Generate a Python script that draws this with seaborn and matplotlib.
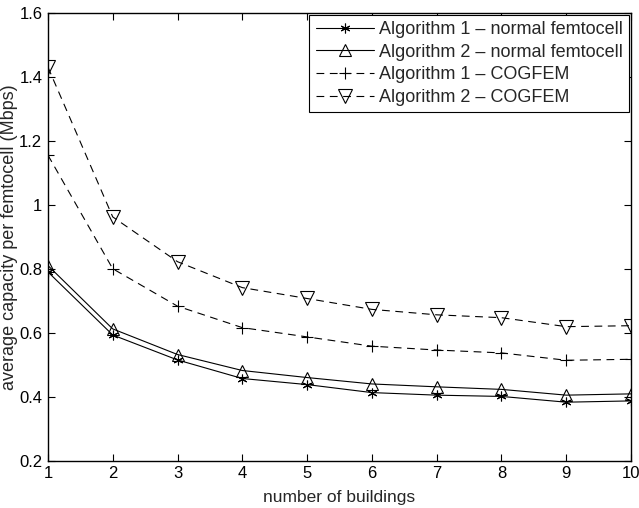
import seaborn as sns
import matplotlib.pyplot as plt
import pandas as pd

# number of buildings
buildings = [1, 2, 3, 4, 5, 6, 7, 8, 9, 10]

# average capacity per femtocell (Mbps)
alg1_normal = [0.79, 0.593, 0.515, 0.457, 0.438, 0.413, 0.405, 0.401, 0.383, 0.387]
alg2_normal = [0.81, 0.612, 0.532, 0.482, 0.460, 0.440, 0.431, 0.423, 0.405, 0.409]
alg1_cogfem = [1.155, 0.80, 0.683, 0.616, 0.587, 0.558, 0.546, 0.537, 0.514, 0.517]
alg2_cogfem = [1.43, 0.962, 0.822, 0.741, 0.707, 0.673, 0.656, 0.647, 0.619, 0.622]

labels = ['Algorithm 1 \u2013 normal femtocell',
          'Algorithm 2 \u2013 normal femtocell',
          'Algorithm 1 \u2013 COGFEM',
          'Algorithm 2 \u2013 COGFEM']

sns.set_style("white")
plt.rcParams['font.family'] = ['Liberation Sans', 'DejaVu Sans']
plt.rcParams['font.size'] = 12

fig = plt.figure(figsize=(6.39, 5.08), dpi=100)
ax = fig.add_axes([0.075, 0.093, 0.9125, 0.882])

series = [alg1_normal, alg2_normal, alg1_cogfem, alg2_cogfem]
markers = [(6, 2, 0), '^', '+', 'v']
sizes = [7, 9, 8, 10]
dashed = [False, False, True, True]

for vals, lab, mk, ms, ds in zip(series, labels, markers, sizes, dashed):
    df = pd.DataFrame({'buildings': buildings, 'capacity': vals})
    sns.lineplot(data=df, x='buildings', y='capacity', ax=ax, color='black',
                 linewidth=0.8, marker=mk, markersize=ms, markerfacecolor='none',
                 markeredgecolor='black', markeredgewidth=0.8,
                 linestyle=(0, (7, 5)) if ds else '-', label=lab)

ax.set_xlim(1, 10)
ax.set_ylim(0.2, 1.6)
ax.set_xticks(buildings)
ax.set_yticks([0.2, 0.4, 0.6, 0.8, 1.0, 1.2, 1.4, 1.6])
ax.set_yticklabels(['0.2', '0.4', '0.6', '0.8', '1', '1.2', '1.4', '1.6'])
ax.set_xlabel('number of buildings', fontsize=12.5, labelpad=6)
ax.set_ylabel('average capacity per femtocell (Mbps)', fontsize=13, labelpad=1)

for sp in ax.spines.values():
    sp.set_visible(True)
    sp.set_color('black')
    sp.set_linewidth(1.0)
ax.tick_params(direction='in', length=5, width=0.8, top=True, right=True,
               bottom=True, left=True, colors='black', labelsize=12, pad=4)

leg = ax.legend(loc='upper right', fancybox=False, framealpha=1, fontsize=13,
                edgecolor='black', borderaxespad=0.1, handlelength=3.2,
                labelspacing=0.32, borderpad=0.35, handletextpad=0.3)
leg.get_frame().set_linewidth(0.8)

fig.savefig('out.png', dpi=100)
